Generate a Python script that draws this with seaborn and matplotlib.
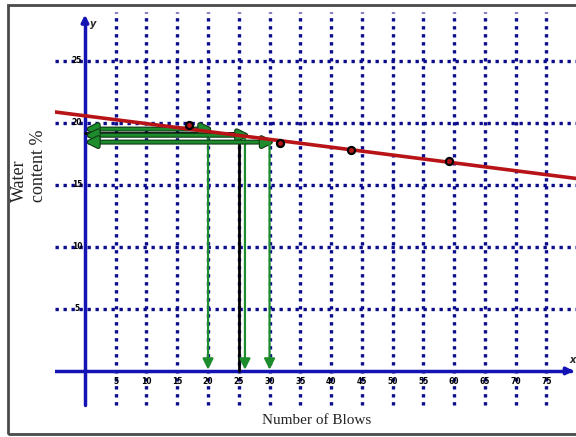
import numpy as np
import pandas as pd
import matplotlib
matplotlib.use('Agg')
import matplotlib.pyplot as plt
import matplotlib.patheffects as pe
from matplotlib.patches import Rectangle
import seaborn as sns

# measured points (blows, water content %)
blows = [16.9, 31.7, 43.2, 59.1]
water = [19.8, 18.4, 17.8, 16.9]

# trend line
trend_x = [-4.9, 79.8]
trend_y = [20.88, 15.52]

# green read-off arrows and the black 25-blow line
arrow_blows = [20, 26, 30]
arrow_water = [19.5, 19.0, 18.45]
ll_blows = 25
ll_water = 19.15

x_ticks = [5, 10, 15, 20, 25, 30, 35, 40, 45, 50, 55, 60, 65, 70, 75]
y_ticks = [5, 10, 15, 20, 25]

GRID = '#0b0b8e'
AXIS = '#1414b4'
RED = '#b81418'
GREEN = '#1c8c2c'

sns.set_style("white")
plt.rcParams['font.family'] = ['Liberation Serif', 'DejaVu Serif']

fig = plt.figure(figsize=(5.76, 4.37), dpi=100)
ax = fig.add_axes([55 / 576, 1 - 410 / 437, 521 / 576, 400 / 437])
ax.set_xlim(-4.87, 79.8)
ax.set_ylim(-3.15, 29.1)
ax.axis('off')

# dotted grid
for gx in x_ticks:
    ax.plot([gx, gx], [-2.74, 28.9], color=GRID, lw=2.4,
            linestyle=(0, (1, 1.4)), zorder=1)
for gy in y_ticks:
    ax.plot([-4.87, 79.8], [gy, gy], color=GRID, lw=2.4,
            linestyle=(0, (1, 1.4)), zorder=1)

# axes with arrows
ax.plot([0, 0], [-2.74, 28.2], color=AXIS, lw=2.5, zorder=2)
ax.annotate('', xy=(0, 28.95), xytext=(0, 27.8),
            arrowprops=dict(arrowstyle='-|>', color=AXIS, lw=2.5, mutation_scale=10))
ax.plot([-4.87, 79.0], [0, 0], color=AXIS, lw=2.5, zorder=2)
ax.annotate('', xy=(79.9, 0), xytext=(78.0, 0),
            arrowprops=dict(arrowstyle='-|>', color=AXIS, lw=2.5, mutation_scale=10),
            annotation_clip=False)

for t in x_ticks:
    ax.text(t, -0.85, str(t), ha='center', va='center', fontsize=5.5,
            fontweight='bold', family='DejaVu Sans', color='black', zorder=5)
for t in y_ticks:
    ax.text(-1.3, t, str(t), ha='center', va='center', fontsize=5.5,
            fontweight='bold', family='DejaVu Sans', color='black', zorder=5)
ax.text(1.3, 28.0, 'y', ha='center', va='center', fontsize=7, fontweight='bold',
        style='italic', family='DejaVu Sans')
ax.text(79.3, 0.85, 'x', ha='center', va='center', fontsize=7, fontweight='bold',
        style='italic', family='DejaVu Sans', clip_on=False)

# black liquid-limit read-off
ax.plot([0, ll_blows], [ll_water, ll_water], color='black', lw=2, zorder=3)
ax.plot([ll_blows, ll_blows], [0, ll_water], color='black', lw=2, zorder=3)

# green arrows
stroke = [pe.Stroke(linewidth=3.6, foreground='#123a18'), pe.Normal()]
for bx, wy in zip(arrow_blows, arrow_water):
    ax.annotate('', xy=(0.2, wy), xytext=(bx + 0.6, wy),
                arrowprops=dict(arrowstyle='<|-|>', color=GREEN, lw=2,
                                mutation_scale=16, shrinkA=0, shrinkB=0,
                                path_effects=stroke), zorder=4)
    ax.annotate('', xy=(bx, 0.1), xytext=(bx, wy),
                arrowprops=dict(arrowstyle='-|>', color=GREEN, lw=1.6,
                                mutation_scale=16, shrinkA=0, shrinkB=0), zorder=4)

# trend line and points
df_trend = pd.DataFrame({'blows': trend_x, 'water': trend_y})
sns.lineplot(data=df_trend, x='blows', y='water', color=RED, lw=2.6, ax=ax, zorder=6)
df = pd.DataFrame({'blows': blows, 'water': water})
sns.scatterplot(data=df, x='blows', y='water', marker='o', s=26, color=RED,
                edgecolor='black', linewidth=1.6, ax=ax, zorder=7)
ax.axis('off')

# labels
fig.text(29 / 576, 1 - 166 / 437, 'Water\ncontent %', rotation=90, ha='center',
         va='center', fontsize=13, multialignment='left', color='#222222')
fig.text(317 / 576, 1 - 421 / 437, 'Number of Blows', ha='center', va='center',
         fontsize=11, color='#222222')

# outer frame
fig.patches.append(Rectangle((8 / 576, 1 - 434 / 437), 600 / 576, 429 / 437,
                             transform=fig.transFigure, fill=False,
                             edgecolor='#4a4a4a', lw=2))

fig.savefig('out.png', dpi=100)
